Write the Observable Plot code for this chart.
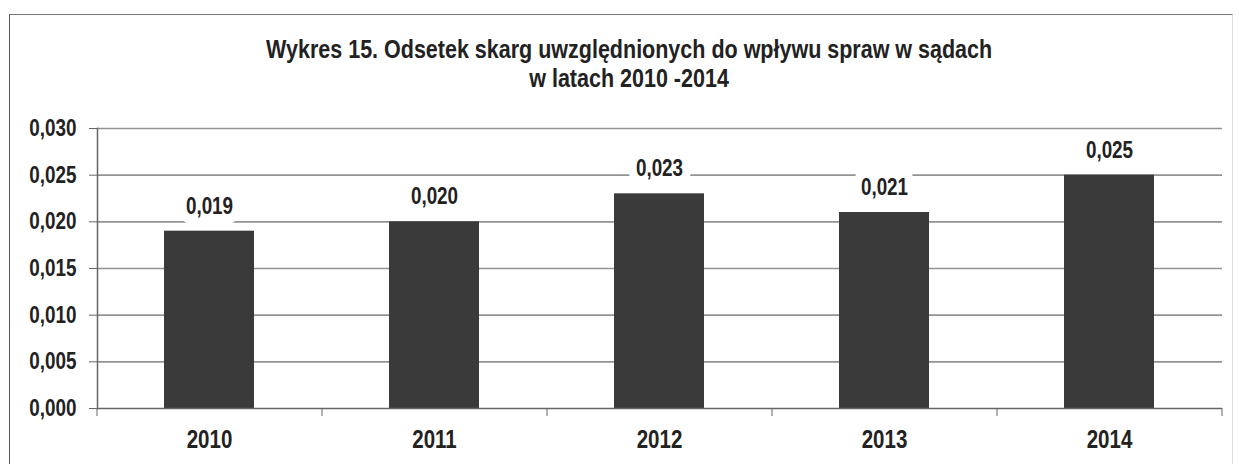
<!DOCTYPE html>
<html><head><meta charset="utf-8">
<script src="https://cdn.jsdelivr.net/npm/d3@7"></script>
<script src="https://cdn.jsdelivr.net/npm/@observablehq/plot@0.6"></script>
<style>
body{margin:0;background:#fff;}
#wrap{position:relative;width:1239px;height:464px;overflow:hidden;font-family:"Liberation Sans",Arial,sans-serif;font-weight:bold;color:#222;}
#frame{position:absolute;left:9px;top:14px;width:1222px;height:470px;border-left:1.5px solid #555;border-top:1.5px solid #777;border-right:1px solid #ddd;z-index:5;}
#title{position:absolute;left:20px;top:35px;width:1219px;text-align:center;font-size:25px;line-height:29px;z-index:4;}
#title span{display:inline-block;transform:scaleX(0.86);transform-origin:50% 50%;white-space:nowrap;}
#chart{position:absolute;left:0;top:100px;}
</style></head><body>
<div id="wrap"><div id="frame"></div><div id="title"><span>Wykres 15. Odsetek skarg uwzględnionych do wpływu spraw w sądach</span><br><span>w latach 2010 -2014</span></div><div id="chart"></div></div>
<script>
const years = ["2010", "2011", "2012", "2013", "2014"];
const values = [0.019, 0.020, 0.023, 0.021, 0.025];
const yTicks = [0, 0.005, 0.010, 0.015, 0.020, 0.025, 0.030];

const data = years.map((year, i) => ({year, value: values[i]}));
const fmt = v => d3.format(".3f")(v).replace(".", ",");
const FONT = '"Liberation Sans",Arial,sans-serif';
const NARROW = 0.82;
const W = 1239, H = 364, ML = 97, MR = 17, MT = 28, MB = 56;
const step = (W - ML - MR) / years.length;

const chart = Plot.plot({
  width: W, height: H,
  marginLeft: ML, marginRight: MR, marginTop: MT, marginBottom: MB,
  style: {fontFamily: FONT, background: "transparent", color: "#222", overflow: "visible"},
  x: {domain: years, paddingInner: 0.6, paddingOuter: 0.3, label: null, axis: null},
  y: {domain: [0, 0.030], label: null, axis: null},
  marks: [
    Plot.ruleY(yTicks.slice(1), {stroke: "#939393", strokeWidth: 1.7}),
    Plot.barY(data, {x: "year", y: "value", fill: "#3a3a3a"}),
    Plot.ruleY([0], {stroke: "#666", strokeWidth: 1.5}),
    Plot.frame({anchor: "left", stroke: "#666", strokeWidth: 1.5}),
    Plot.text(data, {x: "year", y: "value", text: d => fmt(d.value), dy: -25,
      fontSize: 23, fontWeight: "bold", fill: "#222", stroke: "white", strokeWidth: 20}),
    Plot.axisY({ticks: yTicks, tickFormat: fmt, tickSize: 8, tickPadding: 13,
      fontSize: 23, fontWeight: "bold", stroke: "#666", fill: "#222", label: null}),
    Plot.axisX({tickSize: 8, dx: -step / 2, tickFormat: () => "", stroke: "#666", label: null}),
    Plot.axisX([years[years.length - 1]], {tickSize: 8, dx: step / 2, tickFormat: () => "", stroke: "#666", label: null}),
    Plot.axisX({tickSize: 0, tickPadding: 22, fontSize: 25, fontWeight: "bold", fill: "#222", label: null})
  ]
});
// emulate the narrow typeface of the original by condensing glyphs around their anchor
chart.querySelectorAll("text").forEach(t => {
  const tr = t.getAttribute("transform");
  if (tr) t.setAttribute("transform", tr + ` scale(${NARROW},1)`);
});
document.getElementById("chart").appendChild(chart);
</script>
</body></html>
